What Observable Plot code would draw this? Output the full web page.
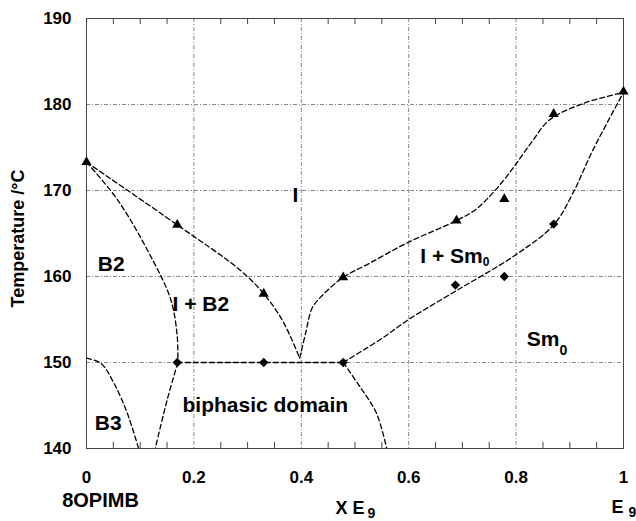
<!DOCTYPE html>
<html>
<head>
<meta charset="utf-8">
<script src="https://cdn.jsdelivr.net/npm/d3@7"></script>
<script src="https://cdn.jsdelivr.net/npm/@observablehq/plot@0.6"></script>
<style>
  html, body { margin: 0; padding: 0; background: #fff; }
  #chart { width: 636px; height: 521px; overflow: hidden; }
</style>
</head>
<body>
<div id="chart"></div>
<script>
// ---------- data (x = mole fraction of E9, T in °C) ----------
const triangles = [[0, 173.3], [0.169, 166.0], [0.33, 158.0], [0.478, 159.9], [0.689, 166.5], [0.778, 169.0], [0.87, 178.9], [1.0, 181.5]];
const diamonds = [[0.169, 150.0], [0.33, 150.0], [0.478, 150.0], [0.687, 159.0], [0.778, 160.0], [0.87, 166.1]];

const liquidusLeft = [[0, 173.3], [0.169, 166.0], [0.287, 160.7], [0.33, 158.0], [0.361, 155.3], [0.38, 153.0], [0.397, 150.5]];
const liquidusRight = [[0.397, 150.5], [0.408, 153.4], [0.42, 156.3], [0.436, 157.6], [0.478, 159.9], [0.526, 161.5], [0.6, 164.0], [0.689, 166.5], [0.725, 167.8], [0.752, 169.4], [0.777, 171.2], [0.8, 173.1], [0.831, 175.8], [0.862, 178.2], [0.924, 180.1], [1.0, 181.4]];
const solidusRight = [[0.478, 150.0], [0.55, 152.8], [0.6, 155.0], [0.69, 158.4], [0.794, 162.3], [0.87, 166.0], [0.905, 169.6], [0.943, 174.7], [1.0, 181.4]];
const eutectic = [[0.169, 150.0], [0.478, 150.0]];
const solidusB2 = [[0, 173.3], [0.058, 168.9], [0.12, 162.3], [0.157, 157.3], [0.169, 153.0], [0.17, 150.0]];
const lowerB2 = [[0.17, 150.0], [0.15, 145.6], [0.128, 140.0]];
const borderB3 = [[0, 150.5], [0.027, 149.9], [0.051, 147.6], [0.076, 144.1], [0.097, 140.0]];
const lowerSm = [[0.478, 150.0], [0.509, 147.2], [0.54, 144.1], [0.559, 140.0]];

const regionLabels = [
  {text: "I", x: 0.389, y: 169.4},
  {text: "B2", x: 0.046, y: 161.4},
  {text: "I + B2", x: 0.213, y: 156.75},
  {text: "biphasic domain", x: 0.333, y: 145.0},
  {text: "B3", x: 0.0405, y: 142.9}
];
const phaseLabelsStart = [
  {text: "I + Sm_0", x: 0.6216, y: 162.4},
  {text: "Sm_0", x: 0.820, y: 152.7}
];

const xTicks = [0, 0.2, 0.4, 0.6, 0.8, 1];
const yTicks = [140, 150, 160, 170, 180, 190];
const xGrid = [0.2, 0.4, 0.6, 0.8];
const yGrid = [150, 160, 170, 180];
const xMinor = d3.range(1, 20).map(i => i / 20).filter(v => Math.abs(v * 5 - Math.round(v * 5)) > 1e-9);

const yLabel = "Temperature /°C";
const leftEndLabel = "8OPIMB";
const xLabel = "X E_9";
const rightEndLabel = "E_9";

// ---------- drawing ----------
const font = "'Liberation Sans', Arial, Helvetica, sans-serif";
const dashed = {x: d => d[0], y: d => d[1], stroke: "black", strokeWidth: 1.3, strokeDasharray: "5,3", curve: "catmull-rom", clip: true};
const gridStyle = {stroke: "#888", strokeOpacity: 1, strokeWidth: 1, strokeDasharray: "4,2,1,2"};

const chart = Plot.plot({
  width: 636,
  height: 521,
  marginLeft: 86,
  marginRight: 13,
  marginTop: 18,
  marginBottom: 73,
  x: {domain: [0, 1]},
  y: {domain: [140, 190]},
  style: {fontFamily: font, fontWeight: "bold", fontSize: "17px", color: "black", background: "white"},
  marks: [
    Plot.gridX(xGrid, gridStyle),
    Plot.gridY(yGrid, gridStyle),
    Plot.tickX(xMinor, {x: d => d, insetTop: 424, stroke: "#444"}),
    Plot.tickX(xMinor, {x: d => d, insetBottom: 424, stroke: "#444"}),
    Plot.frame({stroke: "#444", strokeWidth: 1}),
    Plot.axisX(xTicks, {tickSize: 0, tickPadding: 22, fontSize: 17, fontWeight: "bold", label: null, tickFormat: d => String(d)}),
    Plot.axisY(yTicks, {tickSize: 0, tickPadding: 15, fontSize: 17, fontWeight: "bold", label: null, tickFormat: d => String(d)}),
    Plot.line(liquidusLeft, dashed),
    Plot.line(liquidusRight, dashed),
    Plot.line(solidusRight, dashed),
    Plot.line(eutectic, {...dashed, curve: "linear"}),
    Plot.line(solidusB2, dashed),
    Plot.line(lowerB2, dashed),
    Plot.line(borderB3, dashed),
    Plot.line(lowerSm, dashed),
    Plot.dot(triangles, {x: d => d[0], y: d => d[1], symbol: "triangle", r: 3.8, fill: "black", stroke: "none"}),
    Plot.dot(diamonds, {x: d => d[0], y: d => d[1], symbol: "diamond2", r: 4.2, fill: "black", stroke: "none"}),
    Plot.text(regionLabels, {x: "x", y: "y", text: "text", fontSize: 21, fontWeight: "bold", textAnchor: "middle"}),
    Plot.text(phaseLabelsStart, {x: "x", y: "y", text: "text", fontSize: 21, fontWeight: "bold", textAnchor: "start"}),
    Plot.text([yLabel], {text: d => d, frameAnchor: "left", dx: -68, dy: 5, rotate: -90, fontSize: 18, fontWeight: "bold", textAnchor: "middle"}),
    Plot.text([leftEndLabel], {text: d => d, x: [0], frameAnchor: "bottom", dx: 14, dy: 58, fontSize: 20, fontWeight: "bold", textAnchor: "middle"}),
    Plot.text([xLabel], {text: d => d, x: [0.4636], frameAnchor: "bottom", dy: 65, fontSize: 18, fontWeight: "bold", textAnchor: "start"}),
    Plot.text([rightEndLabel], {text: d => d, x: [0.9777], frameAnchor: "bottom", dy: 64, fontSize: 18, fontWeight: "bold", textAnchor: "start"})
  ]
});

// subscripts: split "main_sub" into tspans
const subStyle = {
  "I + Sm_0": {dy: 3, size: 12, dx: 0},
  "Sm_0": {dy: 9, size: 14, dx: 0},
  "X E_9": {dy: 4, size: 14, dx: 3},
  "E_9": {dy: 4, size: 14, dx: 5}
};
d3.select(chart).selectAll("text").each(function () {
  const t = this.textContent;
  if (!t.includes("_")) return;
  const [main, sub] = t.split("_");
  const s = subStyle[t] || {dy: 4, size: 13, dx: 0};
  const el = d3.select(this);
  el.text(null);
  el.append("tspan").text(main);
  el.append("tspan").attr("dx", s.dx).attr("dy", s.dy).attr("font-size", s.size).text(sub);
});

document.getElementById("chart").appendChild(chart);
</script>
</body>
</html>
